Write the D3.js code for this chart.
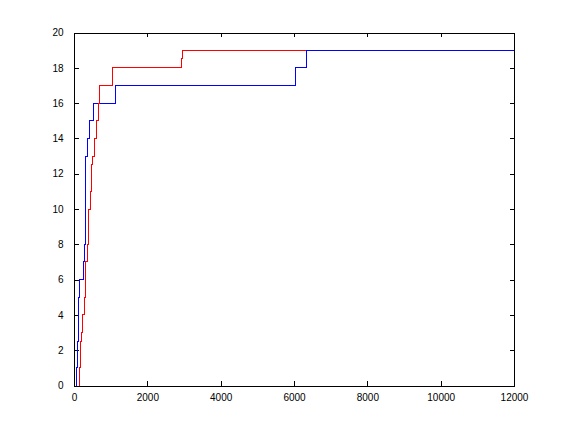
<!DOCTYPE html>
<meta charset="utf-8">
<style>
body { margin: 0; background: #fff; }
.tick text { font-family: "Liberation Sans", Arial, sans-serif; font-size: 10px; fill: #000; }
.line { fill: none; stroke-width: 1; shape-rendering: crispEdges; }
</style>
<body>
<svg width="568" height="434"></svg>
<script src="https://cdn.jsdelivr.net/npm/d3@7"></script>
<script>

// step curves: x where the count jumps, and the value it jumps to
var blueX = [55, 55, 91, 118, 145, 264, 291, 309, 364, 418, 536, 1127, 6036, 6336, 12000];
var blueY = [0, 1, 2.5, 5, 6, 7, 8, 13, 14, 15, 16, 17, 18, 19, 19];

var redX = [145, 145, 173, 200, 227, 282, 327, 364, 400, 445, 482, 500, 555, 609, 664, 705, 1045, 2927, 2955, 6336];
var redY = [0, 1, 2.5, 3, 4, 5, 7, 8, 10, 11, 12.5, 13, 14, 15, 16, 17, 18, 18.5, 19, 19];

var xTicks = [0, 2000, 4000, 6000, 8000, 10000, 12000];
var yTicks = [0, 2, 4, 6, 8, 10, 12, 14, 16, 18, 20];

var svg = d3.select("svg");

var x = d3.scaleLinear()
    .domain([0, 12000])
    .range([74, 514]);

var y = d3.scaleLinear()
    .domain([0, 20])
    .range([385.5, 32.5]);

var line = d3.line()
    .x(function(d) { return x(d[0]); })
    .y(function(d) { return y(d[1]); })
    .curve(d3.curveStepAfter);

var tl = 4.5;
var fmt = d3.format("d");

svg.append("g")
    .attr("transform", "translate(0," + y(0) + ")")
    .call(d3.axisBottom(x).tickValues(xTicks).tickFormat(fmt).tickSizeInner(-tl).tickSizeOuter(0).tickPadding(tl + 4));

svg.append("g")
    .attr("transform", "translate(0," + y(20) + ")")
    .call(d3.axisTop(x).tickValues(xTicks).tickSizeInner(-tl).tickSizeOuter(0).tickFormat(""));

svg.append("g")
    .attr("transform", "translate(" + x(0) + ",0)")
    .call(d3.axisLeft(y).tickValues(yTicks).tickFormat(fmt).tickSizeInner(-tl).tickSizeOuter(0).tickPadding(tl + 6));

svg.append("g")
    .attr("transform", "translate(" + x(12000) + ",0)")
    .call(d3.axisRight(y).tickValues(yTicks).tickSizeInner(-tl).tickSizeOuter(0).tickFormat(""));

svg.selectAll(".domain, .tick line")
    .attr("stroke", "#000")
    .attr("shape-rendering", "crispEdges");

svg.append("path")
    .datum(blueX.map(function(v, i) { return [v, blueY[i]]; }))
    .attr("class", "line")
    .attr("stroke", "#0000ff")
    .attr("d", line);

svg.append("path")
    .datum(redX.map(function(v, i) { return [v, redY[i]]; }))
    .attr("class", "line")
    .attr("stroke", "#ff0000")
    .attr("d", line);

</script>
</body>
